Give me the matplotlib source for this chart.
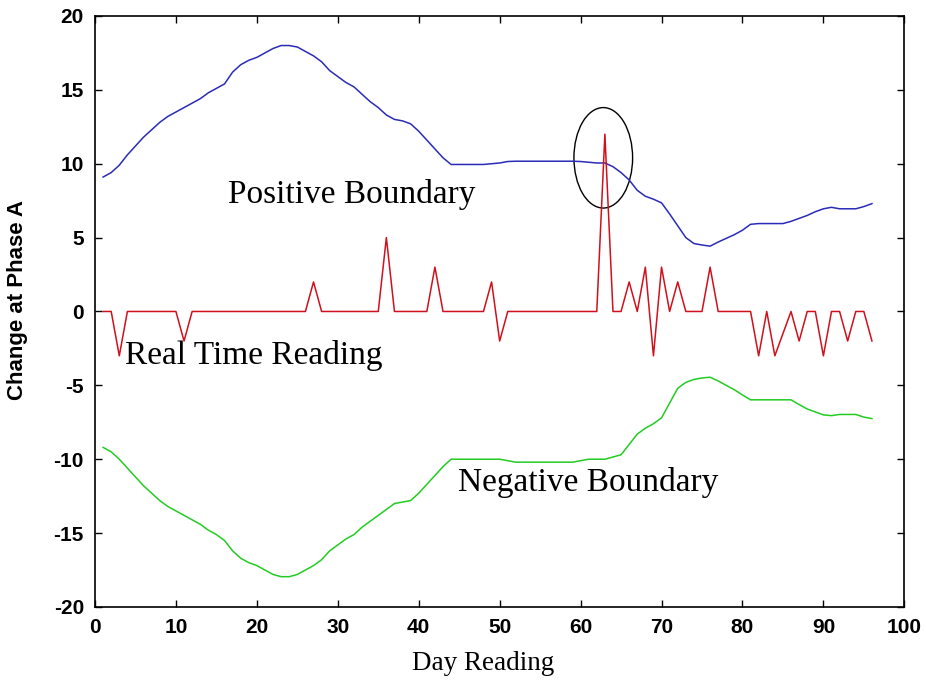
import matplotlib
matplotlib.use("Agg")
import matplotlib.pyplot as plt
from matplotlib.patches import Ellipse
import numpy as np

plt.rcParams["axes.unicode_minus"] = False

days = np.arange(1, 97)

positive_boundary = [
    9.1, 9.4, 9.9, 10.6, 11.2, 11.8, 12.3, 12.8, 13.2, 13.5,
    13.8, 14.1, 14.4, 14.8, 15.1, 15.4, 16.2, 16.7, 17.0, 17.2,
    17.5, 17.8, 18.0, 18.0, 17.9, 17.6, 17.3, 16.9, 16.3, 15.9,
    15.5, 15.2, 14.7, 14.2, 13.8, 13.3, 13.0, 12.9, 12.7, 12.2,
    11.6, 11.0, 10.4, 9.95, 9.95, 9.95, 9.95, 9.95, 10.0, 10.05,
    10.15, 10.17, 10.17, 10.17, 10.17, 10.17, 10.17, 10.17, 10.17, 10.15,
    10.1, 10.05, 10.05, 9.8, 9.4, 8.9, 8.2, 7.8, 7.6, 7.35,
    6.6, 5.8, 5.0, 4.6, 4.5, 4.42, 4.7, 4.95, 5.2, 5.5,
    5.9, 5.95, 5.95, 5.95, 5.95, 6.1, 6.3, 6.5, 6.75, 6.95,
    7.05, 6.95, 6.95, 6.95, 7.1, 7.3,
]

negative_boundary = [
    -9.2, -9.5, -10.0, -10.6, -11.2, -11.8, -12.3, -12.8, -13.2, -13.5,
    -13.8, -14.1, -14.4, -14.8, -15.1, -15.5, -16.2, -16.7, -17.0, -17.2,
    -17.5, -17.8, -17.95, -17.95, -17.8, -17.5, -17.2, -16.8, -16.2, -15.8,
    -15.4, -15.1, -14.6, -14.2, -13.8, -13.4, -13.0, -12.9, -12.8, -12.3,
    -11.7, -11.1, -10.5, -10.0, -10.0, -10.0, -10.0, -10.0, -10.0, -10.0,
    -10.1, -10.2, -10.2, -10.2, -10.2, -10.2, -10.2, -10.2, -10.2, -10.1,
    -10.0, -10.0, -10.0, -9.85, -9.7, -9.0, -8.3, -7.9, -7.6, -7.2,
    -6.2, -5.2, -4.8, -4.6, -4.5, -4.45, -4.7, -5.0, -5.3, -5.65,
    -5.98, -5.98, -5.98, -5.98, -5.98, -5.98, -6.3, -6.6, -6.8, -7.0,
    -7.05, -6.97, -6.97, -6.97, -7.15, -7.25,
]

real_time = [
    0, 0, -3, 0, 0, 0, 0, 0, 0, 0,
    -2, 0, 0, 0, 0, 0, 0, 0, 0, 0,
    0, 0, 0, 0, 0, 0, 2, 0, 0, 0,
    0, 0, 0, 0, 0, 5, 0, 0, 0, 0,
    0, 3, 0, 0, 0, 0, 0, 0, 2, -2,
    0, 0, 0, 0, 0, 0, 0, 0, 0, 0,
    0, 0, 12, 0, 0, 2, 0, 3, -3, 3,
    0, 2, 0, 0, 0, 3, 0, 0, 0, 0,
    0, -3, 0, -3, -1.5, 0, -2, 0, 0, -3,
    0, 0, -2, 0, 0, -2,
]

fig = plt.figure(figsize=(9.26, 6.8), dpi=100)
ax = fig.add_axes([0.1026, 0.1074, 0.874, 0.8691])

ax.plot(days, positive_boundary, color="#2b2bb8", lw=1.1)
ax.plot(days, real_time, color="#d0101c", lw=1.1)
ax.plot(days, negative_boundary, color="#22cc22", lw=1.1)

# circle around the spike at day 63
ax.add_patch(Ellipse((62.8, 10.4), 7.25, 6.8, fill=False, ec="black", lw=1.0))

serif = "Liberation Serif"
ax.text(16.4, 7.9, "Positive Boundary", family=serif, fontsize=24, va="center")
ax.text(3.7, -3.0, "Real Time Reading", family=serif, fontsize=24, va="center")
ax.text(44.9, -11.6, "Negative Boundary", family=serif, fontsize=24, va="center")

ax.set_xlim(0, 100)
ax.set_ylim(-20, 20)
ax.set_xticks(np.arange(0, 101, 10))
ax.set_yticks(np.arange(-20, 21, 5))
ax.tick_params(direction="in", length=5, width=1.0, top=True, right=True,
               labelsize=15, pad=8)
for lab in ax.get_xticklabels() + ax.get_yticklabels():
    lab.set_family("Liberation Sans")
    lab.set_fontweight("bold")
for sp in ax.spines.values():
    sp.set_linewidth(1.2)

ax.set_xlabel("Day Reading", family=serif, fontsize=19.5)
ax.xaxis.set_label_coords(0.48, -0.075)
ax.set_ylabel("Change at Phase A", family="Liberation Sans", fontweight="bold",
              fontsize=16)
ax.yaxis.set_label_coords(-0.083, 0.52)

fig.savefig("out.png", dpi=100)
